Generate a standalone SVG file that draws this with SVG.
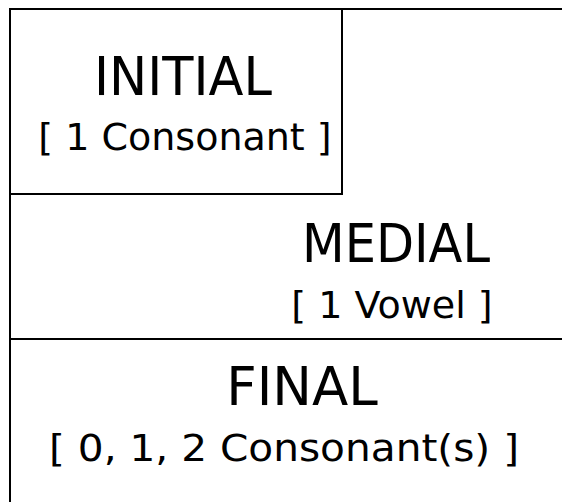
<svg xmlns="http://www.w3.org/2000/svg" width="562" height="502" viewBox="0 0 562 502">
  <style>
    .edge { stroke: #000; stroke-width: 2; fill: none; stroke-linecap: square; }
    text { font-family: "DejaVu Sans", Verdana, sans-serif; fill: #000; text-anchor: middle; }
    .title { font-size: 53px; }
    .sub { font-size: 38px; }
  </style>
  <rect width="562" height="502" fill="#fff"/>

  <!-- frame and dividing lines -->
  <g id="connectors">
    <path class="edge" d="M10 502 V9 H562"/>
    <path class="edge" d="M10 194 H342 V9"/>
    <path class="edge" d="M10 339 H562"/>
  </g>

  <g id="initial">
    <text class="title" x="183" y="95" textLength="178" lengthAdjust="spacingAndGlyphs">INITIAL</text>
    <text class="sub" x="185" y="150">[ 1 Consonant ]</text>
  </g>

  <g id="medial">
    <text class="title" x="396" y="262" textLength="188" lengthAdjust="spacingAndGlyphs">MEDIAL</text>
    <text class="sub" x="392" y="318">[ 1 Vowel ]</text>
  </g>

  <g id="final">
    <text class="title" x="302" y="405">FINAL</text>
    <text class="sub" x="284" y="461" textLength="470" lengthAdjust="spacingAndGlyphs">[ 0, 1, 2 Consonant(s) ]</text>
  </g>
</svg>
